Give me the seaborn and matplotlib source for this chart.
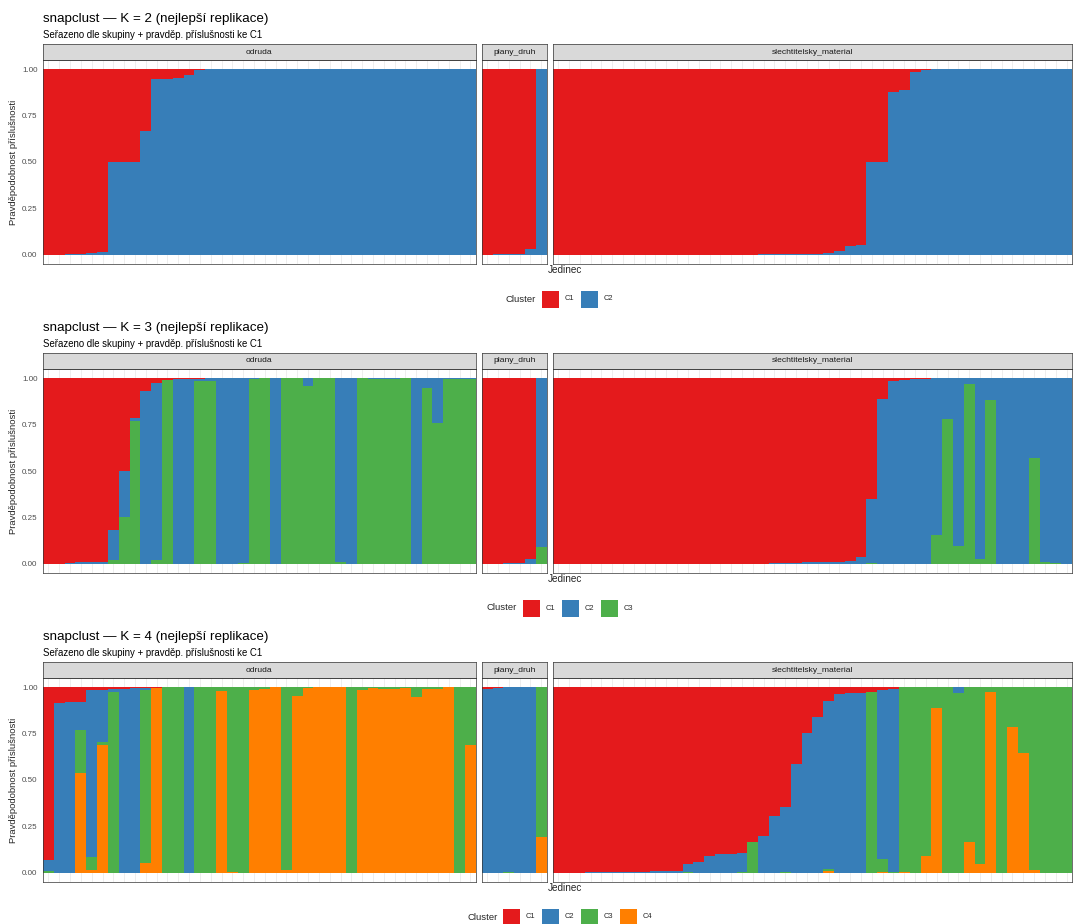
import matplotlib
matplotlib.use("Agg")
import matplotlib.pyplot as plt
from matplotlib.patches import Rectangle
import pandas as pd
import seaborn as sns

# ---------------------------------------------------------------------------
# Membership probabilities per individual (one tuple = C1, C2, ... CK),
# individuals ordered by group and by probability of C1.
# ---------------------------------------------------------------------------
GROUPS = ["odruda", "plany_druh", "slechtitelsky_material"]
CLUSTER_COLORS = ["#E41A1C", "#377EB8", "#4DAF4A", "#FF7F00"]

K2_ODRUDA = [
    (1.0, 0.0), (1.0, 0.0), (0.995, 0.005), (0.995, 0.005), (0.99, 0.01),
    (0.985, 0.015), (0.5, 0.5), (0.5, 0.5), (0.5, 0.5), (0.335, 0.665),
    (0.054, 0.946), (0.053, 0.947), (0.047, 0.953), (0.033, 0.967), (0.005, 0.995),
    (0.0, 1.0), (0.0, 1.0), (0.0, 1.0), (0.0, 1.0), (0.0, 1.0),
    (0.0, 1.0), (0.0, 1.0), (0.0, 1.0), (0.0, 1.0), (0.0, 1.0),
    (0.0, 1.0), (0.0, 1.0), (0.0, 1.0), (0.0, 1.0), (0.0, 1.0),
    (0.0, 1.0), (0.0, 1.0), (0.0, 1.0), (0.0, 1.0), (0.0, 1.0),
    (0.0, 1.0), (0.0, 1.0), (0.0, 1.0), (0.0, 1.0), (0.0, 1.0),
]
K2_PLANY = [
    (1.0, 0.0), (0.998, 0.002), (0.995, 0.005), (0.995, 0.005), (0.97, 0.03),
    (0.0, 1.0),
]
K2_SLECHT = [
    (1.0, 0.0), (1.0, 0.0), (1.0, 0.0), (1.0, 0.0), (1.0, 0.0),
    (1.0, 0.0), (1.0, 0.0), (1.0, 0.0), (1.0, 0.0), (1.0, 0.0),
    (1.0, 0.0), (1.0, 0.0), (1.0, 0.0), (1.0, 0.0), (1.0, 0.0),
    (1.0, 0.0), (1.0, 0.0), (1.0, 0.0), (1.0, 0.0), (0.997, 0.003),
    (0.997, 0.003), (0.997, 0.003), (0.997, 0.003), (0.994, 0.006), (0.994, 0.006),
    (0.99, 0.01), (0.982, 0.018), (0.955, 0.045), (0.95, 0.05), (0.5, 0.5),
    (0.5, 0.5), (0.125, 0.875), (0.11, 0.89), (0.015, 0.985), (0.005, 0.995),
    (0.0, 1.0), (0.0, 1.0), (0.0, 1.0), (0.0, 1.0), (0.0, 1.0),
    (0.0, 1.0), (0.0, 1.0), (0.0, 1.0), (0.0, 1.0), (0.0, 1.0),
    (0.0, 1.0), (0.0, 1.0), (0.0, 1.0),
]

K3_ODRUDA = [
    (1.0, 0.0, 0.0), (1.0, 0.0, 0.0), (0.997, 0.003, 0.0), (0.993, 0.007, 0.0),
    (0.993, 0.007, 0.0), (0.988, 0.012, 0.0), (0.82, 0.16, 0.02), (0.5, 0.25, 0.25),
    (0.216, 0.014, 0.77), (0.07, 0.93, 0.0), (0.027, 0.953, 0.02), (0.01, 0.0, 0.99),
    (0.005, 0.995, 0.0), (0.005, 0.995, 0.0), (0.002, 0.013, 0.985), (0.0, 0.015, 0.985),
    (0.0, 1.0, 0.0), (0.0, 1.0, 0.0), (0.0, 0.997, 0.003), (0.0, 0.005, 0.995),
    (0.0, 0.0, 1.0), (0.0, 1.0, 0.0), (0.0, 0.0, 1.0), (0.0, 0.0, 1.0),
    (0.0, 0.04, 0.96), (0.0, 0.0, 1.0), (0.0, 0.0, 1.0), (0.0, 0.99, 0.01),
    (0.0, 1.0, 0.0), (0.0, 0.0, 1.0), (0.0, 0.006, 0.994), (0.0, 0.006, 0.994),
    (0.0, 0.006, 0.994), (0.0, 0.0, 1.0), (0.0, 1.0, 0.0), (0.0, 0.05, 0.95),
    (0.0, 0.24, 0.76), (0.0, 0.004, 0.996), (0.0, 0.004, 0.996), (0.0, 0.004, 0.996),
]
K3_PLANY = [
    (1.0, 0.0, 0.0), (1.0, 0.0, 0.0), (0.998, 0.002, 0.0), (0.995, 0.005, 0.0),
    (0.973, 0.027, 0.0), (0.0, 0.91, 0.09),
]
K3_SLECHT = [
    (1.0, 0.0, 0.0), (1.0, 0.0, 0.0), (1.0, 0.0, 0.0), (1.0, 0.0, 0.0),
    (1.0, 0.0, 0.0), (1.0, 0.0, 0.0), (1.0, 0.0, 0.0), (1.0, 0.0, 0.0),
    (1.0, 0.0, 0.0), (1.0, 0.0, 0.0), (1.0, 0.0, 0.0), (1.0, 0.0, 0.0),
    (1.0, 0.0, 0.0), (1.0, 0.0, 0.0), (1.0, 0.0, 0.0), (1.0, 0.0, 0.0),
    (1.0, 0.0, 0.0), (1.0, 0.0, 0.0), (1.0, 0.0, 0.0), (1.0, 0.0, 0.0),
    (0.996, 0.004, 0.0), (0.996, 0.004, 0.0), (0.996, 0.004, 0.0), (0.993, 0.007, 0.0),
    (0.993, 0.007, 0.0), (0.993, 0.007, 0.0), (0.993, 0.007, 0.0), (0.984, 0.016, 0.0),
    (0.966, 0.034, 0.0), (0.65, 0.345, 0.005), (0.114, 0.886, 0.0), (0.013, 0.987, 0.0),
    (0.01, 0.99, 0.0), (0.003, 0.997, 0.0), (0.003, 0.997, 0.0), (0.0, 0.847, 0.153),
    (0.0, 0.22, 0.78), (0.0, 0.906, 0.094), (0.0, 0.031, 0.969), (0.0, 0.975, 0.025),
    (0.0, 0.117, 0.883), (0.0, 1.0, 0.0), (0.0, 1.0, 0.0), (0.0, 1.0, 0.0),
    (0.0, 0.432, 0.568), (0.0, 0.993, 0.007), (0.0, 0.996, 0.004), (0.0, 1.0, 0.0),
]

K4_ODRUDA = [
    (0.93, 0.063, 0.007, 0.0), (0.086, 0.914, 0.0, 0.0), (0.079, 0.921, 0.0, 0.0),
    (0.079, 0.151, 0.234, 0.536), (0.014, 0.903, 0.068, 0.015), (0.014, 0.281, 0.016, 0.689),
    (0.009, 0.018, 0.973, 0.0), (0.008, 0.992, 0.0, 0.0), (0.005, 0.995, 0.0, 0.0),
    (0.003, 0.012, 0.935, 0.05), (0.003, 0.0, 0.0, 0.997), (0.0, 0.0, 1.0, 0.0),
    (0.0, 0.0, 1.0, 0.0), (0.0, 1.0, 0.0, 0.0), (0.0, 0.0, 1.0, 0.0),
    (0.0, 0.0, 1.0, 0.0), (0.0, 0.0, 0.02, 0.98), (0.0, 0.0, 0.994, 0.006),
    (0.0, 0.0, 1.0, 0.0), (0.0, 0.0, 0.014, 0.986), (0.0, 0.0, 0.01, 0.99),
    (0.0, 0.0, 0.0, 1.0), (0.0, 0.0, 0.985, 0.015), (0.0, 0.0, 0.045, 0.955),
    (0.0, 0.0, 0.005, 0.995), (0.0, 0.0, 0.0, 1.0), (0.0, 0.0, 0.0, 1.0),
    (0.0, 0.0, 0.0, 1.0), (0.0, 0.0, 1.0, 0.0), (0.0, 0.0, 0.014, 0.986),
    (0.0, 0.0, 0.004, 0.996), (0.0, 0.0, 0.01, 0.99), (0.0, 0.0, 0.01, 0.99),
    (0.0, 0.0, 0.003, 0.997), (0.0, 0.0, 0.05, 0.95), (0.0, 0.0, 0.01, 0.99),
    (0.0, 0.0, 0.01, 0.99), (0.0, 0.0, 0.0, 1.0), (0.0, 0.0, 1.0, 0.0),
    (0.0, 0.0, 0.31, 0.69),
]
K4_PLANY = [
    (0.01, 0.99, 0.0, 0.0), (0.002, 0.998, 0.0, 0.0), (0.0, 0.995, 0.005, 0.0),
    (0.0, 1.0, 0.0, 0.0), (0.0, 1.0, 0.0, 0.0), (0.0, 0.0, 0.81, 0.19),
]
K4_SLECHT = [
    (1.0, 0.0, 0.0, 0.0), (1.0, 0.0, 0.0, 0.0), (1.0, 0.0, 0.0, 0.0),
    (0.996, 0.004, 0.0, 0.0), (0.996, 0.004, 0.0, 0.0), (0.996, 0.004, 0.0, 0.0),
    (0.996, 0.004, 0.0, 0.0), (0.996, 0.004, 0.0, 0.0), (0.996, 0.004, 0.0, 0.0),
    (0.993, 0.007, 0.0, 0.0), (0.993, 0.007, 0.0, 0.0), (0.993, 0.007, 0.0, 0.0),
    (0.955, 0.04, 0.005, 0.0), (0.942, 0.058, 0.0, 0.0), (0.908, 0.092, 0.0, 0.0),
    (0.897, 0.103, 0.0, 0.0), (0.897, 0.103, 0.0, 0.0), (0.895, 0.1, 0.005, 0.0),
    (0.836, 0.0, 0.164, 0.0), (0.8, 0.2, 0.0, 0.0), (0.692, 0.308, 0.0, 0.0),
    (0.646, 0.35, 0.004, 0.0), (0.412, 0.588, 0.0, 0.0), (0.245, 0.755, 0.0, 0.0),
    (0.16, 0.84, 0.0, 0.0), (0.076, 0.902, 0.013, 0.009), (0.036, 0.964, 0.0, 0.0),
    (0.032, 0.968, 0.0, 0.0), (0.032, 0.968, 0.0, 0.0), (0.027, 0.0, 0.973, 0.0),
    (0.015, 0.91, 0.07, 0.005), (0.01, 0.986, 0.004, 0.0), (0.0, 0.0, 0.996, 0.004),
    (0.0, 0.0, 1.0, 0.0), (0.0, 0.0, 0.91, 0.09), (0.0, 0.0, 0.112, 0.888),
    (0.0, 0.0, 1.0, 0.0), (0.0, 0.032, 0.968, 0.0), (0.0, 0.0, 0.836, 0.164),
    (0.0, 0.0, 0.953, 0.047), (0.0, 0.0, 0.023, 0.977), (0.0, 0.0, 1.0, 0.0),
    (0.0, 0.0, 0.216, 0.784), (0.0, 0.0, 0.356, 0.644), (0.0, 0.0, 0.986, 0.014),
    (0.0, 0.0, 1.0, 0.0), (0.0, 0.0, 1.0, 0.0), (0.0, 0.0, 1.0, 0.0),
]

K_VALUES = [2, 3, 4]
BLOCK_DATA = [
    [K2_ODRUDA, K2_PLANY, K2_SLECHT],
    [K3_ODRUDA, K3_PLANY, K3_SLECHT],
    [K4_ODRUDA, K4_PLANY, K4_SLECHT],
]

TITLE = "snapclust \u2014 K = {k} (nejlepší replikace)"
SUBTITLE = "Seřazeno dle skupiny + pravděp. příslušnosti ke C1"
Y_LABEL = "Pravděpodobnost příslušnosti"
X_LABEL = "Jedinec"
Y_TICKS = [0.0, 0.25, 0.5, 0.75, 1.0]

# ---------------------------------------------------------------------------
sns.set_theme(style="white")
plt.rcParams["font.family"] = ["Liberation Sans", "DejaVu Sans"]

W, H = 1073, 924
fig = plt.figure(figsize=(W / 100, H / 100), dpi=100)
fig.patch.set_facecolor("white")


def fx(x):
    return x / W


def fy(y):
    return 1 - y / H


def long_table(rows, k):
    recs = []
    for i, r in enumerate(rows):
        for c in range(k):
            recs.append({"ind": i, "cluster": f"C{c + 1}", "p": r[c]})
    return pd.DataFrame(recs)


PANEL_LEFT, PANEL_RIGHT, PANEL_GAP = 43, 1072, 6
BLOCK_STEP = 309
BORDER = "#333333"

for b, (k, groups) in enumerate(zip(K_VALUES, BLOCK_DATA)):
    off = b * BLOCK_STEP
    clusters = [f"C{c + 1}" for c in range(k)]
    palette = dict(zip(clusters, CLUSTER_COLORS[:k]))
    counts = [len(g) for g in groups]
    unit = (PANEL_RIGHT - PANEL_LEFT - PANEL_GAP * (len(groups) - 1)) / sum(counts)
    top, bottom = 60 + off, 264 + off

    fig.text(fx(43), fy(19 + off), TITLE.format(k=k), fontsize=9.6,
             ha="left", va="center", color="black")
    fig.text(fx(43), fy(35 + off), SUBTITLE, fontsize=6.9,
             ha="left", va="center", color="black")

    x0 = PANEL_LEFT
    for gi, (gname, rows) in enumerate(zip(GROUPS, groups)):
        n = len(rows)
        wpx = n * unit
        ax = fig.add_axes([fx(x0), fy(bottom), wpx / W, (bottom - top) / H])
        df = long_table(rows, k)
        sns.histplot(data=df, x="ind", weights="p", hue="cluster",
                     hue_order=clusters, palette=palette, multiple="stack",
                     discrete=True, shrink=1, alpha=1, linewidth=0,
                     antialiased=False, legend=False, ax=ax)
        ax.set_xlim(-0.5, n - 0.5)
        ax.set_ylim(-0.05, 1.05)
        ax.set_xticks(range(n))
        ax.set_xticklabels([])
        ax.tick_params(axis="x", length=0)
        ax.set_xlabel("")
        ax.set_ylabel("")
        ax.set_axisbelow(True)
        ax.grid(True, axis="x", color="#EBEBEB", linewidth=0.6)
        ax.set_facecolor("white")
        for s in ax.spines.values():
            s.set_color(BORDER)
            s.set_linewidth(0.5)
        if gi == 0:
            ax.set_yticks(Y_TICKS)
            ax.set_yticklabels([f"{t:.2f}" for t in Y_TICKS], fontsize=5.8,
                               color="#4D4D4D")
            ax.tick_params(axis="y", length=2.5, width=0.5, color=BORDER, pad=1.5)
        else:
            ax.set_yticks([])

        # facet strip
        strip = fig.add_axes([fx(x0), fy(top), wpx / W, 16 / H])
        strip.set_xticks([])
        strip.set_yticks([])
        strip.set_facecolor("#D9D9D9")
        for s in strip.spines.values():
            s.set_color(BORDER)
            s.set_linewidth(0.5)
        strip.text(0.5, 0.5, gname, transform=strip.transAxes, ha="center",
                   va="center", fontsize=6.1, color="#1A1A1A")

        x0 += wpx + PANEL_GAP

    fig.text(fx(14), fy((top + bottom) / 2), Y_LABEL, rotation=90, fontsize=6.8,
             ha="center", va="center")
    fig.text(fx(565), fy(270 + off), X_LABEL, fontsize=7.2, ha="center",
             va="center")

    # legend
    leg_y = 299 + off
    sq = 17
    pitch = 39
    total = 36 + k * pitch
    lx = 563 - total / 2
    fig.text(fx(lx), fy(leg_y), "Cluster", fontsize=6.8, ha="left", va="center")
    cx = lx + 36
    for c, name in enumerate(clusters):
        fig.patches.append(Rectangle((fx(cx), fy(leg_y + sq / 2)), sq / W, sq / H,
                                     transform=fig.transFigure,
                                     facecolor=palette[name], edgecolor="none"))
        fig.text(fx(cx + sq + 6), fy(leg_y), name, fontsize=5.4, ha="left",
                 va="center")
        cx += pitch

fig.savefig("out.png", dpi=100, facecolor="white")
